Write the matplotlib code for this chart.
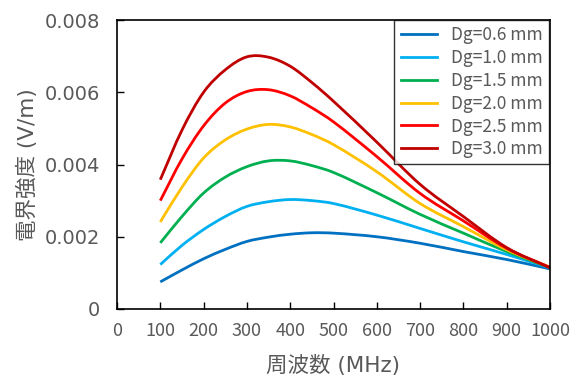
import matplotlib
matplotlib.use("Agg")
import matplotlib.pyplot as plt
from matplotlib.path import Path
from matplotlib.patches import PathPatch
from matplotlib.lines import Line2D

freq = [100, 150, 200, 250, 300, 350, 400, 450, 500, 600, 700, 800, 900, 1000]

dg06 = [0.75, 1.08, 1.39, 1.65, 1.87, 1.99, 2.07, 2.11, 2.10, 2.00, 1.82, 1.59, 1.37, 1.11]
dg10 = [1.23, 1.76, 2.20, 2.56, 2.84, 2.97, 3.03, 3.00, 2.92, 2.60, 2.23, 1.86, 1.51, 1.14]
dg15 = [1.83, 2.56, 3.21, 3.65, 3.94, 4.10, 4.10, 3.97, 3.78, 3.22, 2.62, 2.10, 1.59, 1.15]
dg20 = [2.41, 3.37, 4.18, 4.68, 4.98, 5.11, 5.04, 4.83, 4.55, 3.80, 2.92, 2.28, 1.64, 1.16]
dg25 = [3.00, 4.15, 5.07, 5.70, 6.02, 6.07, 5.90, 5.57, 5.18, 4.22, 3.20, 2.44, 1.68, 1.15]
dg30 = [3.58, 4.95, 6.00, 6.62, 6.98, 6.97, 6.72, 6.27, 5.75, 4.62, 3.45, 2.56, 1.70, 1.14]

series_labels = ["Dg=0.6 mm", "Dg=1.0 mm", "Dg=1.5 mm", "Dg=2.0 mm", "Dg=2.5 mm", "Dg=3.0 mm"]
series_values = [dg06, dg10, dg15, dg20, dg25, dg30]
colors = ["#0070C0", "#00B0F0", "#00B050", "#FFC000", "#FF0000", "#C00000"]

xticks = [0, 100, 200, 300, 400, 500, 600, 700, 800, 900, 1000]
yticks = [0, 0.002, 0.004, 0.006, 0.008]
ytick_labels = ["0", "0.002", "0.004", "0.006", "0.008"]

plt.rcParams['font.family'] = ['Noto Sans CJK JP', 'DejaVu Sans']
gray = "#595959"


def smooth_path(xs, ys):
    # smoothed line: cubic Hermite (Bezier) segments through the data points
    n = len(xs)
    slopes = []
    for i in range(n):
        a = max(i - 1, 0)
        b = min(i + 1, n - 1)
        slopes.append((ys[b] - ys[a]) / (xs[b] - xs[a]))
    verts = [(xs[0], ys[0])]
    codes = [Path.MOVETO]
    for i in range(n - 1):
        h = xs[i + 1] - xs[i]
        c1 = (xs[i] + h / 3.0, ys[i] + slopes[i] * h / 3.0)
        c2 = (xs[i + 1] - h / 3.0, ys[i + 1] - slopes[i + 1] * h / 3.0)
        verts += [c1, c2, (xs[i + 1], ys[i + 1])]
        codes += [Path.CURVE4] * 3
    return Path(verts, codes)


fig = plt.figure(figsize=(5.8, 3.83), dpi=100)
ax = fig.add_axes([117/580, 1-309/383, (550-117)/580, (309-20)/383])

handles = []
for lab, vals, c in zip(series_labels, series_values, colors):
    ys = [v * 1e-3 for v in vals]
    patch = PathPatch(smooth_path(freq, ys), facecolor='none', edgecolor=c,
                      lw=2.0, capstyle='butt', transform=ax.transData)
    ax.add_patch(patch)
    handles.append(Line2D([], [], color=c, lw=2.0, label=lab))

ax.set_xlim(0, 1000)
ax.set_ylim(0, 0.008)
ax.set_xticks(xticks)
ax.set_xticklabels([str(t) for t in xticks], fontsize=13, color=gray)
ax.set_yticks(yticks)
ax.set_yticklabels(ytick_labels, fontsize=14, color=gray,
                   family=['DejaVu Sans'])
ax.tick_params(axis='both', direction='in', length=5, width=1, color='black')
ax.tick_params(axis='x', pad=9)
ax.tick_params(axis='y', pad=12)
for s in ax.spines.values():
    s.set_color('black')
    s.set_linewidth(1.2)

ax.set_xlabel("周波数 (MHz)", fontsize=15.5, color=gray, labelpad=11,
              family=['DejaVu Sans', 'Noto Sans CJK JP'])
ax.set_ylabel("電界強度 (V/m)", fontsize=15.5, color=gray, labelpad=5,
              family=['DejaVu Sans', 'Noto Sans CJK JP'])

leg = ax.legend(handles=handles, loc='upper right', bbox_to_anchor=(0.997, 1.0),
                fontsize=12.5, frameon=True, fancybox=False, borderpad=0.35,
                labelspacing=0.28, handlelength=2.1, handletextpad=0.8,
                borderaxespad=0.0)
leg.get_frame().set_edgecolor('black')
leg.get_frame().set_linewidth(1.0)
for t in leg.get_texts():
    t.set_color(gray)

fig.savefig("out.png", dpi=100)
